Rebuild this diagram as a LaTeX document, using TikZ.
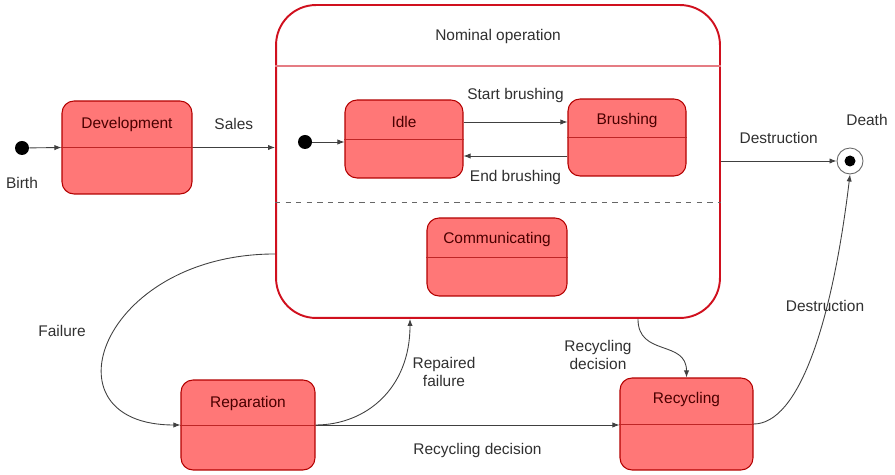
\documentclass[tikz,border=0pt]{standalone}
\usepackage{fontspec}
\setmainfont{Liberation Sans}
\usetikzlibrary{arrows.meta}

\definecolor{statefill}{HTML}{FF7777}
\definecolor{stateline}{HTML}{B30000}
\definecolor{superline}{HTML}{D0101E}
\definecolor{titletext}{HTML}{4A0000}
\definecolor{labeltext}{HTML}{303030}

\tikzset{
  statebox/.style={draw=stateline, fill=statefill, rounded corners=0.24cm, line width=0.6pt, inner sep=0pt},
  statetitle/.style={anchor=center, yshift=-0.45cm, text=titletext},
  divider/.style={stateline!85, line width=0.45pt},
  trans/.style={-{Latex[length=4pt,width=3pt]}, black!75, line width=0.5pt},
  lbl/.style={text=labeltext, align=center},
  dot/.style={circle, fill=black, minimum size=0.28cm, inner sep=0pt},
}

\begin{document}
\begin{tikzpicture}[x=0.02cm, y=-0.02cm, font=\fontsize{8.8}{10.5}\selectfont]
  \useasboundingbox (0,0) rectangle (895,475);
  % outer states
  \node[dot] (birth) at (22,148) {};
  \node[lbl] (birthlbl) at (22,183) {Birth};
  \node[statebox, minimum width=2.6cm, minimum height=1.86cm,
        label={[statetitle, yshift=-0.03cm]north:Development}] (dev) at (127,147.5) {};
  \draw[divider] (dev.west) -- (dev.east);
  % composite state
  \node[draw=superline, line width=1.1pt, rounded corners=0.8cm, fill=white,
        minimum width=8.88cm, minimum height=6.26cm, inner sep=0pt,
        label={[anchor=center, yshift=-0.64cm, text=labeltext]north:Nominal operation}] (nom) at (498,161.5) {};
  \draw[superline!55, line width=0.6pt] (nom.west |- 0,66) -- (nom.east |- 0,66);
  \draw[dashed, black!60, line width=0.5pt] (nom.west |- 0,202) -- (nom.east |- 0,202);
  \node[dot] (init) at (305,142) {};
  \node[statebox, minimum width=2.36cm, minimum height=1.56cm,
        label={[statetitle]north:Idle}] (idle) at (404,139) {};
  \draw[divider] (idle.west) -- (idle.east);
  \node[statebox, minimum width=2.36cm, minimum height=1.54cm,
        label={[statetitle]north:Brushing}] (brush) at (627,137.5) {};
  \draw[divider] (brush.west) -- (brush.east);
  \node[statebox, minimum width=2.8cm, minimum height=1.56cm,
        label={[statetitle]north:Communicating}] (comm) at (497,257) {};
  \draw[divider] (comm.west) -- (comm.east);
  % end of life
  \node[circle, draw=black!60, line width=0.5pt, minimum size=0.52cm, inner sep=0pt] (death) at (850,161) {};
  \node[dot, minimum size=0.22cm] (deathdot) at (death) {};
  \node[lbl] (deathlbl) at (867,120) {Death};
  \node[statebox, minimum width=2.68cm, minimum height=1.8cm,
        label={[statetitle, yshift=-0.03cm]north:Reparation}] (repar) at (248,425) {};
  \draw[divider] (repar.west) -- (repar.east);
  \node[statebox, minimum width=2.66cm, minimum height=1.84cm,
        label={[statetitle]north:Recycling}] (recyc) at (686.5,424) {};
  \draw[divider] (recyc.west) -- (recyc.east);
  % transitions
  \draw[trans] (birth) -- (dev.west);
  \draw[trans] (dev.east) -- node[lbl, yshift=0.48cm] {Sales} (nom.west |- dev.east);
  \draw[trans] (init) -- (init -| idle.west);
  \draw[trans] ([yshift=0.34cm]idle.east) -- node[lbl, yshift=0.54cm] {Start brushing} ([yshift=0.34cm]idle.east -| brush.west);
  \draw[trans] ([yshift=-0.34cm]idle.east -| brush.west) -- node[lbl, yshift=-0.44cm] {End brushing} ([yshift=-0.34cm]idle.east);
  \draw[trans] (nom.east |- death) -- node[lbl, yshift=0.46cm] {Destruction} (death);
  \draw[trans] ([yshift=-1.85cm]nom.west) .. controls +(-175,0) and +(-140,0) .. (repar.west);
  \node[lbl] (failurelbl) at (62,331) {Failure};
  \draw[trans] (repar.east) .. controls +(50,0) and +(0,70) .. ([xshift=-1.76cm]nom.south);
  \node[lbl] (repairlbl) at (444,372) {Repaired\\failure};
  \draw[trans] (repar.east) -- node[lbl, yshift=-0.52cm, xshift=0.2cm] {Recycling decision} (repar.east -| recyc.west);
  \draw[trans] ([xshift=2.8cm]nom.south) .. controls +(0,38) and +(0,-38) .. (recyc.north);
  \node[lbl] (recdeclbl) at (598,355) {Recycling\\decision};
  \draw[trans] (recyc.east) .. controls +(45,0) and +(-18,150) .. (death.south);
  \node[lbl] (destrlbl) at (825,306) {Destruction};
\end{tikzpicture}
\end{document}
